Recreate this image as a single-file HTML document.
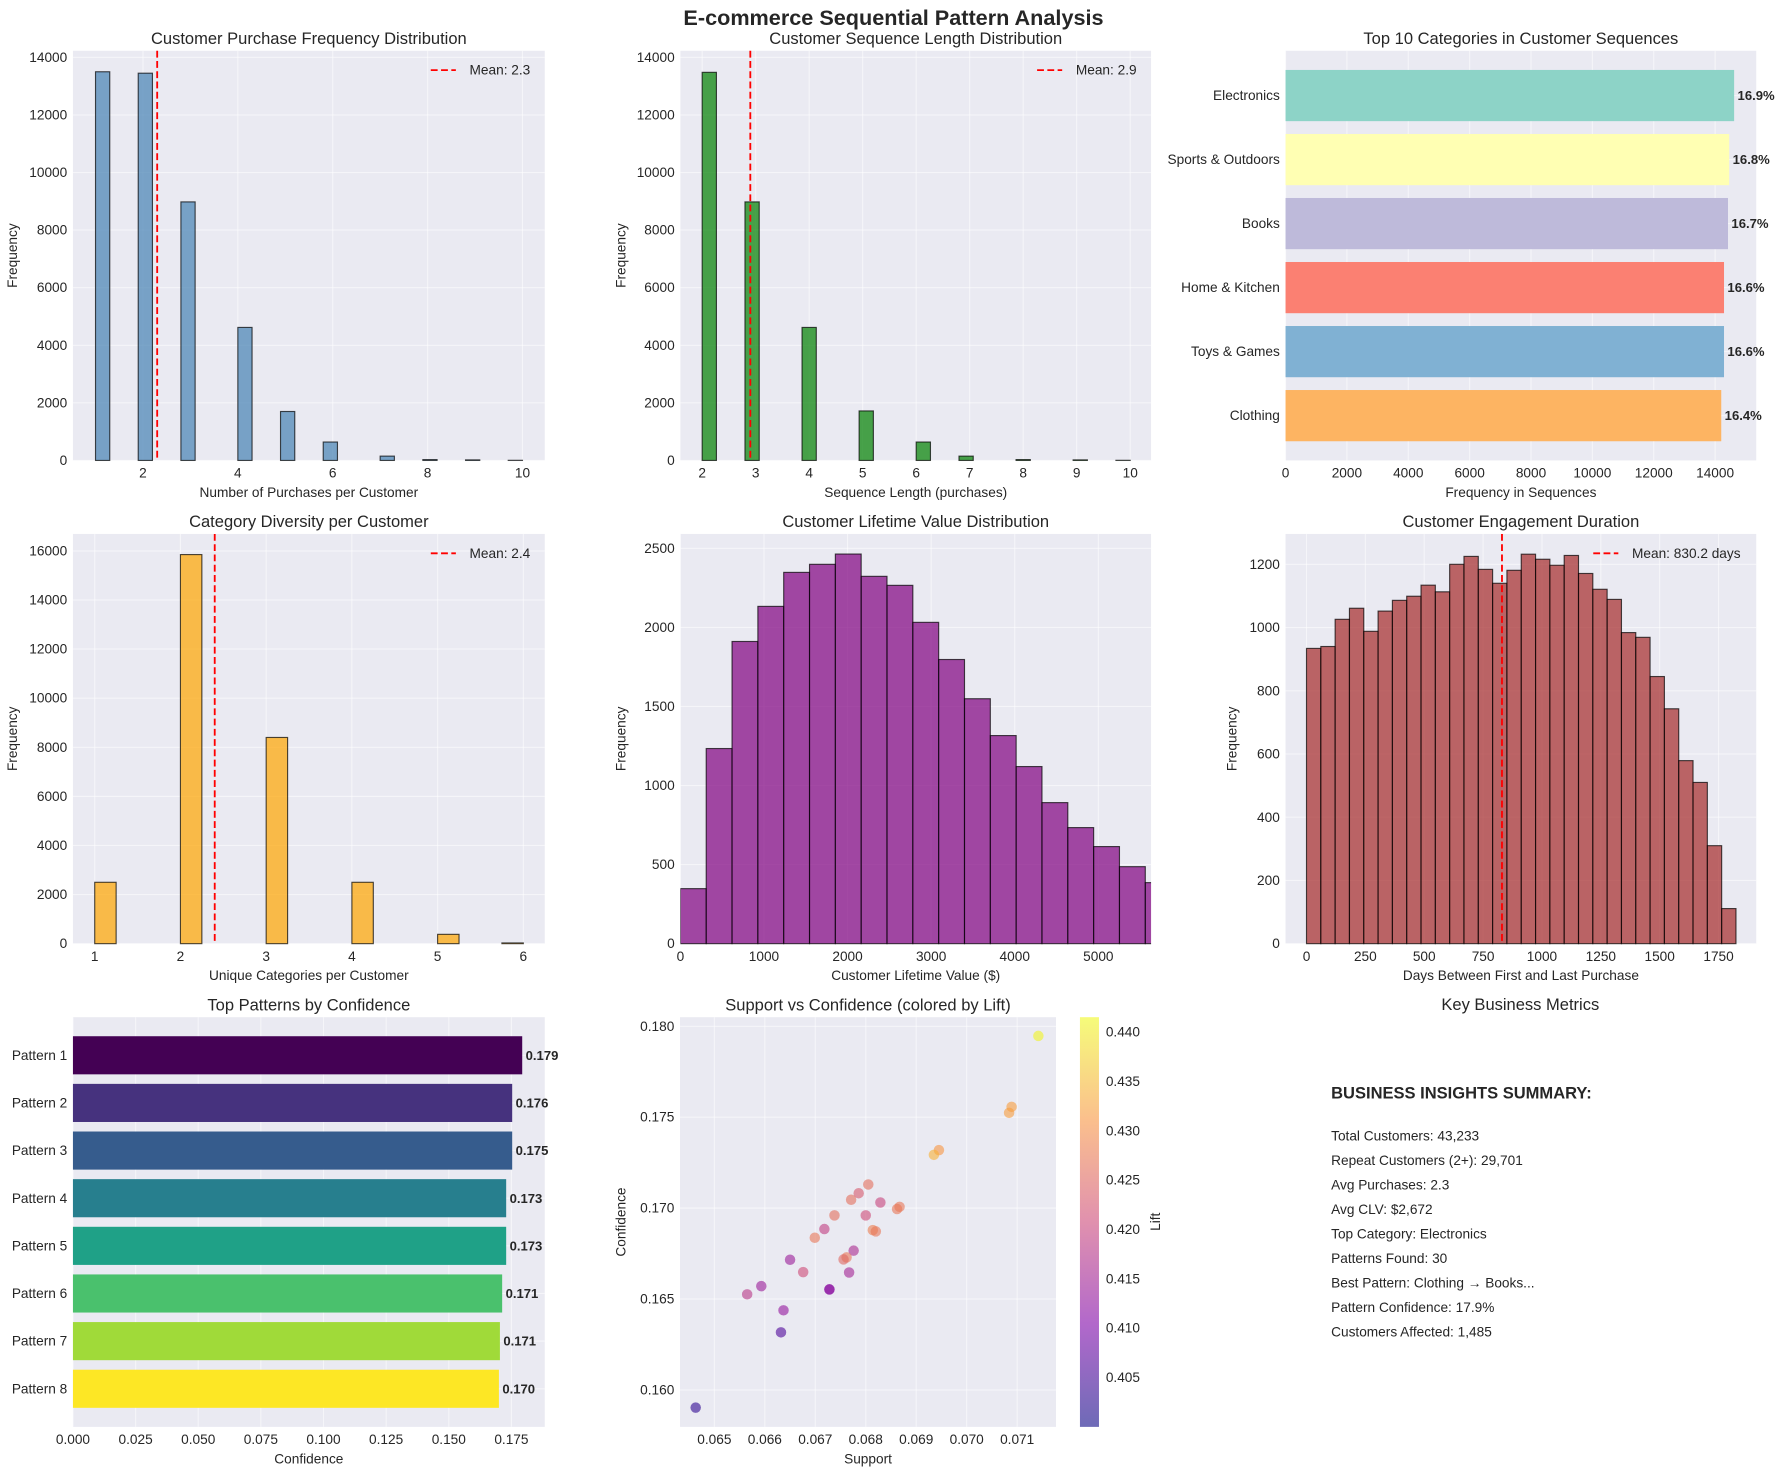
<!DOCTYPE html>
<html><head><meta charset="utf-8"><title>E-commerce Sequential Pattern Analysis</title>
<style>
html,body{margin:0;padding:0;background:#fff;}
svg{display:block;font-family:"Liberation Sans",sans-serif;}
</style></head>
<body>
<svg id="fig" xmlns="http://www.w3.org/2000/svg" width="1787" height="1475" viewBox="0 0 1568 1294.2"></svg>
<script>
// ---------- data ----------
const purchaseValues = [1,2,3,4,5,6,7,8,9,10];
const purchaseCounts = [13500,13450,8980,4620,1700,640,150,30,20,5];
const purchaseMean = 2.3;
const seqValues = [2,3,4,5,6,7,8,9,10];
const seqCounts = [13480,8980,4620,1720,640,150,30,20,5];
const seqMean = 2.9;
const catNames = ["Clothing","Toys & Games","Home & Kitchen","Books","Sports & Outdoors","Electronics"];
const catCounts = [14200,14290,14290,14420,14460,14620];
const catPct = ["16.4%","16.6%","16.6%","16.7%","16.8%","16.9%"];
const divValues = [1,2,3,4,5,6];
const divCounts = [2500,15850,8400,2500,380,30];
const divMean = 2.4;
const clvCounts = [348,1234,1911,2133,2348,2399,2464,2323,2266,2032,1797,1549,1316,1120,892,734,614,487,386];
const clvBinWidth = 309;
const engCounts = [934,940,1026,1061,988,1052,1086,1099,1134,1113,1200,1225,1184,1140,1181,1232,1216,1197,1228,1171,1121,1089,984,969,845,743,579,510,310,111];
const engBinWidth = 60.8;
const engMean = 830.2;
const patNames = ["Pattern 1","Pattern 2","Pattern 3","Pattern 4","Pattern 5","Pattern 6","Pattern 7","Pattern 8"];
const patConf = [0.1793,0.1753,0.1753,0.1729,0.1729,0.1713,0.1704,0.1700];
const patLabels = ["0.179","0.176","0.175","0.173","0.173","0.171","0.171","0.170"];
const scSupport = [0.07142,0.07089,0.07084,0.06945,0.06935,0.06805,0.06786,0.06771,0.06829,0.06867,0.06862,0.06738,0.06800,0.06718,0.06699,0.06814,0.06820,0.06776,0.06762,0.06756,0.06650,0.06676,0.06767,0.06593,0.06728,0.06728,0.06565,0.06637,0.06632,0.06463];
const scConf = [0.17947,0.17557,0.17524,0.17319,0.17293,0.1713,0.17082,0.17046,0.17031,0.17007,0.16995,0.1696,0.1696,0.16885,0.16837,0.16879,0.16872,0.16766,0.16729,0.16718,0.16716,0.16648,0.16646,0.16571,0.16553,0.16553,0.16526,0.16438,0.16317,0.15903];
const scLift = [0.441,0.432,0.432,0.431,0.434,0.426,0.423,0.426,0.420,0.427,0.427,0.426,0.421,0.419,0.427,0.428,0.427,0.416,0.427,0.425,0.414,0.421,0.415,0.414,0.412,0.412,0.418,0.413,0.406,0.403];
const liftTicks = [0.405,0.410,0.415,0.420,0.425,0.430,0.435,0.440];
const metricsLines = ["Total Customers: 43,233","Repeat Customers (2+): 29,701","Avg Purchases: 2.3","Avg CLV: $2,672","Top Category: Electronics","Patterns Found: 30","Best Pattern: Clothing \u2192 Books...","Pattern Confidence: 17.9%","Customers Affected: 1,485"];

// ---------- helpers ----------
const NS = "http://www.w3.org/2000/svg";
const svg = document.getElementById("fig");
const TXT = "#262626";
function mk(tag, attrs, parent, text){
  const e = document.createElementNS(NS, tag);
  for (const k in attrs) e.setAttribute(k, attrs[k]);
  if (text !== undefined) e.textContent = text;
  (parent || svg).appendChild(e);
  return e;
}
function lin(d0,d1,r0,r1){ return v => r0 + (v-d0)/(d1-d0)*(r1-r0); }

function makeAxes(name, L,T,R,B, xd, yd, xticks, yticks, xfmt, yfmt, title, xlabel, ylabel, ylabX){
  const g = mk("g", {});
  
  
  const sx = lin(xd[0],xd[1],L,R), sy = lin(yd[0],yd[1],B,T);
  const bg = mk("rect", {x:L,y:T,width:R-L,height:B-T,fill:"#eaeaf2"}, g);
  
  
  xticks.forEach(t => {
    const x = sx(t);
    mk("line", {x1:x,x2:x,y1:T,y2:B,stroke:"#ffffff","stroke-opacity":0.5,"stroke-width":1}, g);
    const tl = mk("text", {x:x,y:B+15,"text-anchor":"middle","font-size":12,fill:TXT}, g, xfmt(t));
    
    
  });
  yticks.forEach(t => {
    const y = sy(t);
    mk("line", {x1:L,x2:R,y1:y,y2:y,stroke:"#ffffff","stroke-opacity":0.5,"stroke-width":1}, g);
    if (yfmt) {
      const tl = mk("text", {x:L-5,y:y+4,"text-anchor":"end","font-size":12,fill:TXT}, g, yfmt(t));
      
      
    }
  });
  const tt = mk("text", {x:(L+R)/2,y:T-6,"text-anchor":"middle","font-size":14.5,fill:TXT}, g, title);
  
  
  if (xlabel) {
    const xl = mk("text", {x:(L+R)/2,y:B+32,"text-anchor":"middle","font-size":12,fill:TXT}, g, xlabel);
    
    
  }
  if (ylabel) {
    const yc = (T+B)/2;
    const yl = mk("text", {x:ylabX,y:yc,"text-anchor":"middle","font-size":12,fill:TXT,transform:`rotate(-90 ${ylabX} ${yc})`}, g, ylabel);
    
    
  }
  return {g, sx, sy, L, T, R, B};
}
function histBars(ax, lo, w, counts, fill, name){
  counts.forEach((c,i) => {
    const x0 = ax.sx(lo + i*w), x1 = ax.sx(lo + (i+1)*w);
    const r = mk("rect", {x:x0,y:ax.sy(c),width:x1-x0,height:ax.sy(0)-ax.sy(c),fill:fill,"fill-opacity":0.7,stroke:"#000","stroke-opacity":0.7,"stroke-width":1}, ax.g);
    
    
  });
}
function valueBars(ax, values, counts, lo, w, fill, name){
  values.forEach((v,i) => {
    const k = Math.min(Math.floor((v - lo)/w + 1e-6), 29);
    const x0 = ax.sx(lo + k*w), x1 = ax.sx(lo + (k+1)*w);
    const c = counts[i];
    const r = mk("rect", {x:x0,y:ax.sy(c),width:x1-x0,height:ax.sy(0)-ax.sy(c),fill:fill,"fill-opacity":0.7,stroke:"#000","stroke-opacity":0.7,"stroke-width":1}, ax.g);
    
    
  });
}
function meanLine(ax, m, label, lx){
  const x = ax.sx(m);
  const l = mk("line", {x1:x,x2:x,y1:ax.T,y2:ax.B,stroke:"#ff0000","stroke-width":1.6,"stroke-dasharray":"6,3"}, ax.g);
  
  
  const ly = ax.T + 17;
  const ls = mk("line", {x1:lx,x2:lx+22,y1:ly,y2:ly,stroke:"#ff0000","stroke-width":1.6,"stroke-dasharray":"6,3"}, ax.g);
  
  
  const lt = mk("text", {x:lx+34,y:ly+4,"font-size":12,fill:TXT}, ax.g, label);
  
  
}
const rng = (a,b,s) => { const o=[]; for(let v=a; v<=b+1e-9; v+=s) o.push(+v.toFixed(6)); return o; };
const intf = v => String(Math.round(v));

// ---------- suptitle ----------
const sup = mk("text", {x:784,y:22,"text-anchor":"middle","font-size":19,"font-weight":"bold",fill:TXT}, svg, "E-commerce Sequential Pattern Analysis");



// ---------- panel 1 ----------
const a1 = makeAxes("purchase-frequency-chart", 64,44.5,478,404, [0.524,10.47],[0,14230], [2,4,6,8,10], rng(0,14000,2000), intf,intf, "Customer Purchase Frequency Distribution","Number of Purchases per Customer","Frequency",15);
valueBars(a1, purchaseValues, purchaseCounts, 1, 0.3, "#4682b4", "purchase-bar");
meanLine(a1, purchaseMean, "Mean: 2.3", 378);

// ---------- panel 2 ----------
const a2 = makeAxes("sequence-length-chart", 597,44.5,1010,404, [1.593,10.39],[0,14230], [2,3,4,5,6,7,8,9,10], rng(0,14000,2000), intf,intf, "Customer Sequence Length Distribution","Sequence Length (purchases)","Frequency",549);
valueBars(a2, seqValues, seqCounts, 2, 8/30, "#008000", "sequence-bar");
meanLine(a2, seqMean, "Mean: 2.9", 910);

// ---------- panel 3 ----------
const a3 = makeAxes("top-categories-chart", 1128,44.5,1541,404, [0,15340],[-0.7,5.7], rng(0,14000,2000), [0,1,2,3,4,5], intf,null, "Top 10 Categories in Customer Sequences","Frequency in Sequences",null,0);
const set3 = ["#fdb462","#80b1d3","#fb8072","#bebada","#ffffb3","#8dd3c7"];
catNames.forEach((n,i) => {
  const yc = a3.sy(i), h = a3.sy(0)-a3.sy(0.8);
  const r = mk("rect", {x:a3.sx(0),y:yc-h/2,width:a3.sx(catCounts[i])-a3.sx(0),height:h,fill:set3[i]}, a3.g);
  
  
  const t = mk("text", {x:a3.sx(catCounts[i])+3,y:yc+4,"font-size":11.5,"font-weight":"bold",fill:TXT}, a3.g, catPct[i]);
  
  
  const cl = mk("text", {x:a3.L-5,y:yc+4,"text-anchor":"end","font-size":12,fill:TXT}, a3.g, n);
  
  
});

// ---------- panel 4 ----------
const a4 = makeAxes("category-diversity-chart", 64,468.5,478,828, [0.746,6.25],[0,16690], [1,2,3,4,5,6], rng(0,16000,2000), intf,intf, "Category Diversity per Customer","Unique Categories per Customer","Frequency",15);
divValues.forEach((v,i) => {
  const k = Math.min(Math.floor((v-1)/0.25 + 1e-6), 19);
  const x0 = a4.sx(1+k*0.25), x1 = a4.sx(1+(k+1)*0.25), c = divCounts[i];
  const r = mk("rect", {x:x0,y:a4.sy(c),width:x1-x0,height:a4.sy(0)-a4.sy(c),fill:"#ffa500","fill-opacity":0.7,stroke:"#000","stroke-opacity":0.7,"stroke-width":1}, a4.g);
  
  
});
meanLine(a4, divMean, "Mean: 2.4", 378);

// ---------- panel 5 ----------
const a5 = makeAxes("clv-distribution-chart", 597,468.5,1010,828, [0,5631],[0,2591], [0,1000,2000,3000,4000,5000], rng(0,2500,500), intf,intf, "Customer Lifetime Value Distribution","Customer Lifetime Value ($)","Frequency",549);
const clip5 = mk("clipPath", {id:"clip5"}, svg);
mk("rect", {x:597,y:440,width:413,height:400}, clip5);
const g5 = mk("g", {"clip-path":"url(#clip5)"}, a5.g);
const a5c = {g:g5, sx:a5.sx, sy:a5.sy};
histBars(a5c, 0, clvBinWidth, clvCounts, "#800080", "clv-bar");

// ---------- panel 6 ----------
const a6 = makeAxes("engagement-duration-chart", 1128,468.5,1541,828, [-89,1910],[0,1296], rng(0,1750,250), rng(0,1200,200), intf,intf, "Customer Engagement Duration","Days Between First and Last Purchase","Frequency",1085);
histBars(a6, 0, engBinWidth, engCounts, "#a52a2a", "engagement-bar");
meanLine(a6, engMean, "Mean: 830.2 days", 1398);

// ---------- panel 7 ----------
const a7 = makeAxes("top-patterns-chart", 64,892.5,478,1252, [0,0.1883],[7.8,-0.8], rng(0,0.175,0.025), [0,1,2,3,4,5,6,7], v=>v.toFixed(3),null, "Top Patterns by Confidence","Confidence",null,0);
const viridis = ["#440154","#46327e","#365c8d","#277f8e","#1fa187","#4ac16d","#a0da39","#fde725"];
patNames.forEach((n,i) => {
  const yc = a7.sy(i), h = Math.abs(a7.sy(0.8)-a7.sy(0));
  const r = mk("rect", {x:a7.sx(0),y:yc-h/2,width:a7.sx(patConf[i])-a7.sx(0),height:h,fill:viridis[i]}, a7.g);
  
  
  const t = mk("text", {x:a7.sx(patConf[i])+3,y:yc+4,"font-size":11.5,"font-weight":"bold",fill:TXT}, a7.g, patLabels[i]);
  
  
  const pl = mk("text", {x:a7.L-5,y:yc+4,"text-anchor":"end","font-size":12,fill:TXT}, a7.g, n);
  
  
});

// ---------- panel 8 ----------
const a8 = makeAxes("support-confidence-scatter", 596.7,892.5,926.6,1252, [0.06432,0.07177],[0.15797,0.1805], rng(0.065,0.071,0.001), rng(0.160,0.180,0.005), v=>v.toFixed(3),v=>v.toFixed(3), "Support vs Confidence (colored by Lift)","Support","Confidence",549);
const plasmaStops = [[0,[13,8,135]],[0.25,[126,3,168]],[0.5,[204,71,120]],[0.75,[248,149,64]],[1,[240,249,33]]];
function plasma(t){
  t = Math.max(0, Math.min(1, t));
  for (let i=1;i<plasmaStops.length;i++){
    if (t <= plasmaStops[i][0]) {
      const [t0,c0] = plasmaStops[i-1], [t1,c1] = plasmaStops[i];
      const f = (t-t0)/(t1-t0);
      return `rgb(${c0.map((c,j)=>Math.round(c+(c1[j]-c)*f)).join(",")})`;
    }
  }
  return "rgb(240,249,33)";
}
const liftMin = 0.400, liftMax = 0.4415;
scSupport.forEach((s,i) => {
  const c = mk("circle", {cx:a8.sx(s),cy:a8.sy(scConf[i]),r:4.6,fill:plasma((scLift[i]-liftMin)/(liftMax-liftMin)),"fill-opacity":0.6}, a8.g);
  
  
});
// colorbar
const defs = mk("defs", {}, svg);
const grad = mk("linearGradient", {id:"plasmaGrad",x1:0,y1:1,x2:0,y2:0}, defs);
plasmaStops.forEach(([t,c]) => mk("stop", {offset:t,"stop-color":`rgb(${c.join(",")})`}, grad));
const cbx = 947.6, cbw = 16.7, cbT = 892.5, cbB = 1252;
const cb = mk("rect", {x:cbx,y:cbT,width:cbw,height:cbB-cbT,fill:"url(#plasmaGrad)","fill-opacity":0.6}, svg);


const cbs = lin(liftMin, liftMax, cbB, cbT);
liftTicks.forEach(t => {
  const y = cbs(t);
  const tl = mk("text", {x:cbx+cbw+6,y:y+4,"font-size":12,fill:TXT}, svg, t.toFixed(3));
  
  
});
const lift = mk("text", {x:1018,y:1072,"text-anchor":"middle","font-size":12,fill:TXT,transform:"rotate(-90 1018 1072)"}, svg, "Lift");



// ---------- panel 9 ----------
const kt = mk("text", {x:1334,y:886,"text-anchor":"middle","font-size":14.5,fill:TXT}, svg, "Key Business Metrics");


const hd = mk("text", {x:1168,y:964,"font-size":14.5,"font-weight":"bold",fill:TXT}, svg, "BUSINESS INSIGHTS SUMMARY:");


metricsLines.forEach((s,i) => {
  const t = mk("text", {x:1168,y:1000.5+i*21.5,"font-size":12,fill:TXT}, svg, s);
  
  
});
</script>
</body></html>
